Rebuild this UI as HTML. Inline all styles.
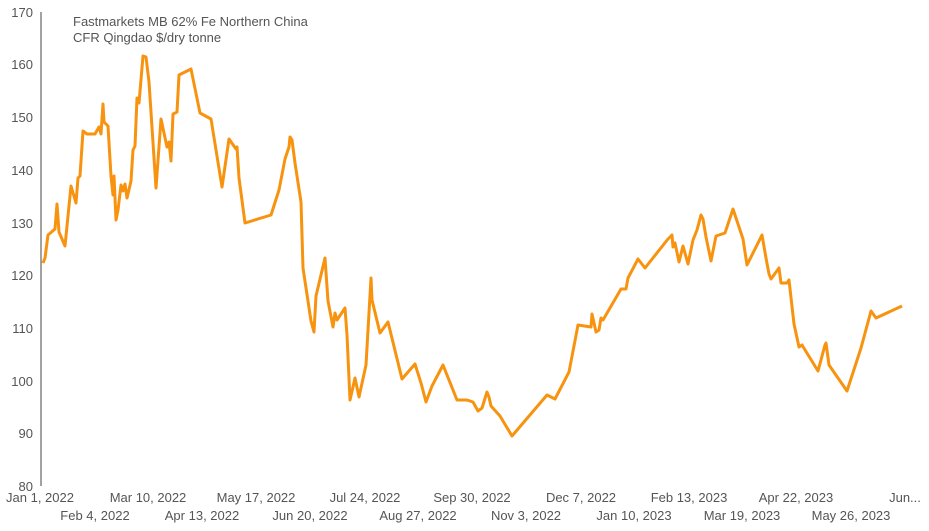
<!DOCTYPE html>
<html><head><meta charset="utf-8"><style>
html,body{margin:0;padding:0;background:#fff;}
svg{display:block;font-family:"Liberation Sans",sans-serif;}
</style></head><body>
<svg width="929" height="531" viewBox="0 0 929 531">
<line x1="41" y1="12" x2="41" y2="486" stroke="#444" stroke-width="1"/>
<g fill="#555" font-size="13" text-anchor="end">
<text x="33" y="17">170</text><text x="33" y="69">160</text><text x="33" y="122">150</text>
<text x="33" y="175">140</text><text x="33" y="228">130</text><text x="33" y="280">120</text>
<text x="33" y="333">110</text><text x="33" y="386">100</text><text x="33" y="438">90</text>
<text x="33" y="491">80</text>
</g>
<g fill="#555" font-size="13" text-anchor="middle">
<text x="40" y="502">Jan 1, 2022</text><text x="148" y="502">Mar 10, 2022</text>
<text x="256" y="502">May 17, 2022</text><text x="365" y="502">Jul 24, 2022</text>
<text x="472" y="502">Sep 30, 2022</text><text x="581" y="502">Dec 7, 2022</text>
<text x="689" y="502">Feb 13, 2023</text><text x="796" y="502">Apr 22, 2023</text>
<text x="905" y="502">Jun...</text>
<text x="95" y="520">Feb 4, 2022</text><text x="202" y="520">Apr 13, 2022</text>
<text x="310" y="520">Jun 20, 2022</text><text x="418" y="520">Aug 27, 2022</text>
<text x="526" y="520">Nov 3, 2022</text><text x="634" y="520">Jan 10, 2023</text>
<text x="742" y="520">Mar 19, 2023</text><text x="851" y="520">May 26, 2023</text>
</g>
<text x="73" y="26" fill="#555" font-size="13">Fastmarkets MB 62% Fe Northern China</text>
<text x="73" y="42" fill="#555" font-size="13">CFR Qingdao $/dry tonne</text>
<polyline fill="none" stroke="#F7930F" stroke-width="3" stroke-linejoin="round" points="43,263 45,258 48,235 55,229 57,204 59,232 65,246 71,186 76,203 78,178 80,176 83,131 87,134 95,134 99,127 101,134 103,104 104,122 108,126 111,176 113,195 114,176 116,220 118,210 121,185 123,191 125,184 127,198 131,181 133,150 135,146 137,98 139,103 143,56 146,57 149,82 156,188 161,119 167,147 169,142 171,161 173,114 177,112 179,75 191,69 200,113 211,119 222,187 229,139 236,149 237,147 239,178 245,223 271,215 279,190 285,159 289,147 290,137 292,140 295,163 301,202 303,268 311,321 314,332 316,296 325,258 328,301 333,327 335,313 337,320 345,308 347,335 350,400 353,387 355,378 359,397 366,365 371,278 372,300 380,333 388,322 402,379 415,364 421,383 426,402 432,386 443,365 457,400 467,400 473,402 478,411 482,408 487,392 489,397 491,406 500,416 512,436 547,395 555,399 569,372 578,325 591,327 592,314 596,332 599,330 601,318 603,320 621,289 626,289 628,278 638,259 645,268 668,239 672,235 673,247 675,243 679,262 683,246 688,264 693,240 697,230 701,215 703,219 706,237 711,261 716,236 725,233 733,209 743,239 747,265 762,235 766,258 769,274 771,279 779,268 781,283 787,283 789,280 794,324 799,347 802,345 818,371 825,345 826,343 829,365 847,391 861,348 871,311 876,318 902,306"/>
</svg>
</body></html>
